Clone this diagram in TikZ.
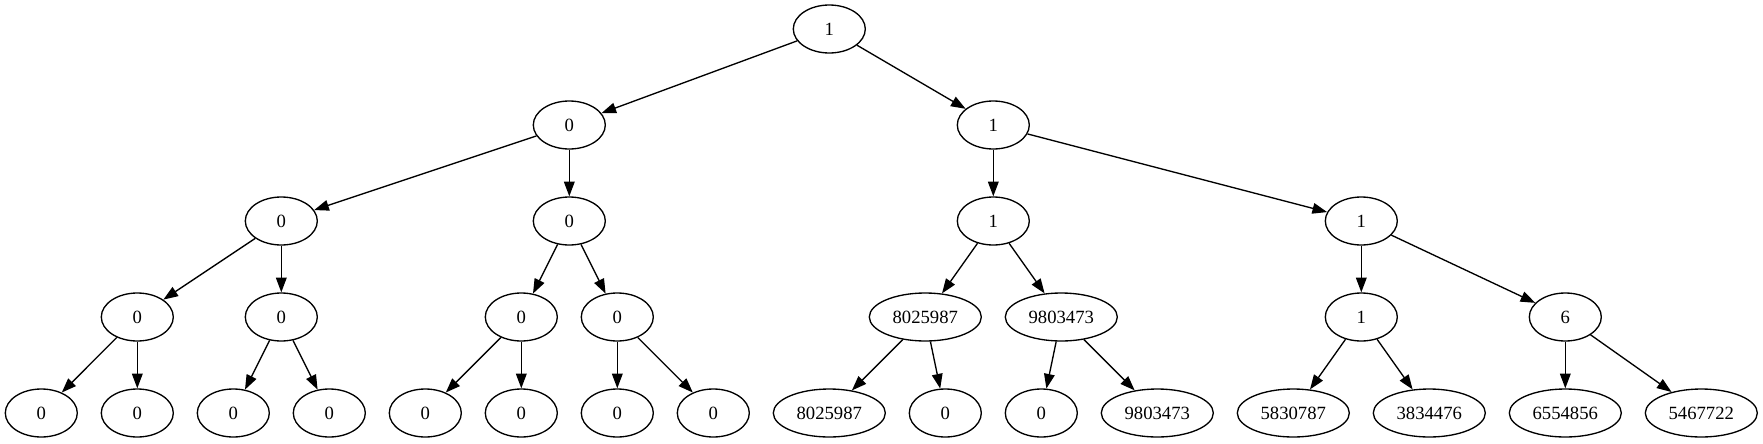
\documentclass[tikz,border=0pt]{standalone}
\usepackage{fontspec}
\setmainfont{Liberation Serif}
\usetikzlibrary{shapes.geometric,arrows.meta}
\tikzset{
  nd/.style={draw, ellipse, line width=1pt, minimum width=54pt, minimum height=36pt, inner sep=0pt, font=\fontsize{14pt}{16pt}\selectfont},
  wide/.style={minimum width=84pt},
  ed/.style={draw, line width=1pt, -{Triangle[length=11pt,width=8pt]}}
}
\begin{document}
\begin{tikzpicture}[x=0.75pt,y=-0.75pt]
\useasboundingbox (0,0) rectangle (1763,443);
% level 0
\node[nd] (r) at (829.3,29) {1};
% level 1
\node[nd] (a) at (569.3,125) {0};
\node[nd] (b) at (993.3,125) {1};
% level 2
\node[nd] (aa) at (281.3,221) {0};
\node[nd] (ab) at (569.3,221) {0};
\node[nd] (ba) at (993.3,221) {1};
\node[nd] (bb) at (1361.3,221) {1};
% level 3
\node[nd] (aaa) at (137.3,317) {0};
\node[nd] (aab) at (281.3,317) {0};
\node[nd] (aba) at (521.3,317) {0};
\node[nd] (abb) at (617.3,317) {0};
\node[nd,wide] (baa) at (925.3,317) {8025987};
\node[nd,wide] (bab) at (1061.3,317) {9803473};
\node[nd] (bba) at (1361.3,317) {1};
\node[nd] (bbb) at (1565.3,317) {6};
% level 4
\node[nd] (l1) at (41.3,413) {0};
\node[nd] (l2) at (137.3,413) {0};
\node[nd] (l3) at (233.3,413) {0};
\node[nd] (l4) at (329.3,413) {0};
\node[nd] (l5) at (425.3,413) {0};
\node[nd] (l6) at (521.3,413) {0};
\node[nd] (l7) at (617.3,413) {0};
\node[nd] (l8) at (713.3,413) {0};
\node[nd,wide] (l9) at (829.3,413) {8025987};
\node[nd] (l10) at (945.3,413) {0};
\node[nd] (l11) at (1041.3,413) {0};
\node[nd,wide] (l12) at (1157.3,413) {9803473};
\node[nd,wide] (l13) at (1293.3,413) {5830787};
\node[nd,wide] (l14) at (1429.3,413) {3834476};
\node[nd,wide] (l15) at (1565.3,413) {6554856};
\node[nd,wide] (l16) at (1701.3,413) {5467722};
% edges
\draw[ed] (r) -- (a);
\draw[ed] (r) -- (b);
\draw[ed] (a) -- (aa);
\draw[ed] (a) -- (ab);
\draw[ed] (b) -- (ba);
\draw[ed] (b) -- (bb);
\draw[ed] (aa) -- (aaa);
\draw[ed] (aa) -- (aab);
\draw[ed] (ab) -- (aba);
\draw[ed] (ab) -- (abb);
\draw[ed] (ba) -- (baa);
\draw[ed] (ba) -- (bab);
\draw[ed] (bb) -- (bba);
\draw[ed] (bb) -- (bbb);
\draw[ed] (aaa) -- (l1);
\draw[ed] (aaa) -- (l2);
\draw[ed] (aab) -- (l3);
\draw[ed] (aab) -- (l4);
\draw[ed] (aba) -- (l5);
\draw[ed] (aba) -- (l6);
\draw[ed] (abb) -- (l7);
\draw[ed] (abb) -- (l8);
\draw[ed] (baa) -- (l9);
\draw[ed] (baa) -- (l10);
\draw[ed] (bab) -- (l11);
\draw[ed] (bab) -- (l12);
\draw[ed] (bba) -- (l13);
\draw[ed] (bba) -- (l14);
\draw[ed] (bbb) -- (l15);
\draw[ed] (bbb) -- (l16);
\end{tikzpicture}
\end{document}
